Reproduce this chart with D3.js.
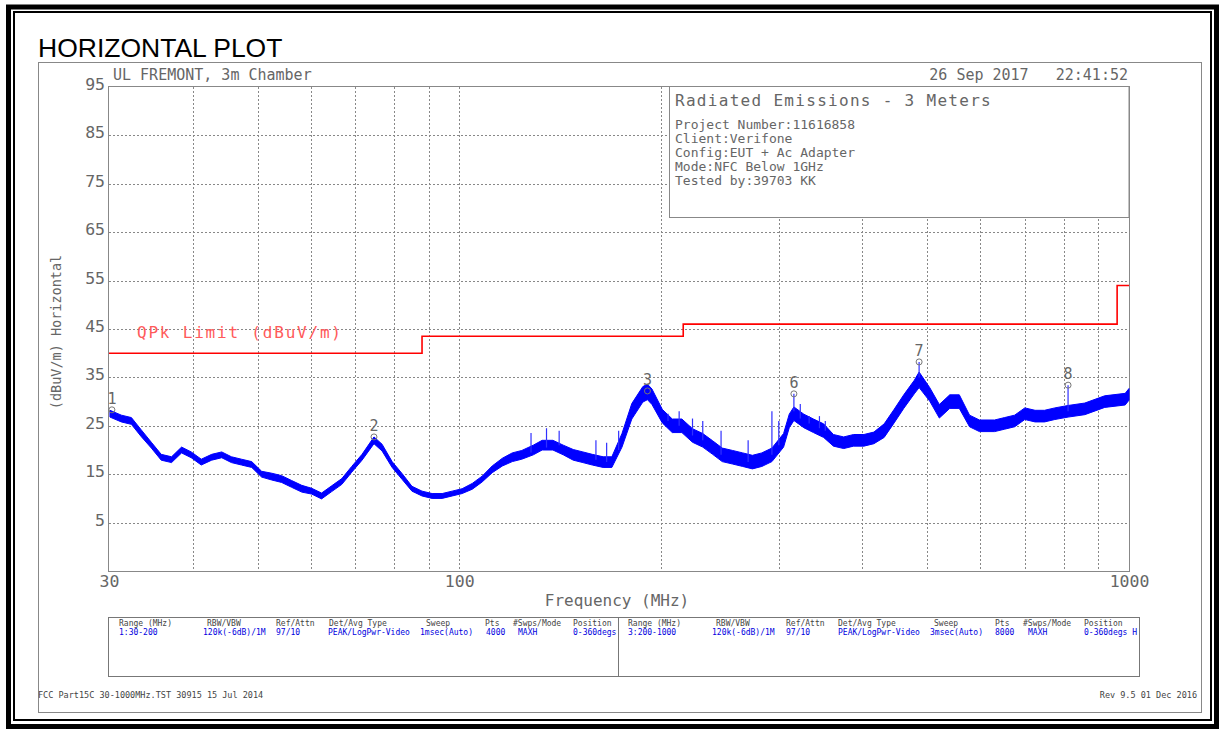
<!DOCTYPE html>
<html><head><meta charset="utf-8">
<script src="https://cdn.jsdelivr.net/npm/d3@7"></script>
<style>
html,body{margin:0;padding:0;background:#fff;}
svg{display:block;}
.mono{font-family:"DejaVu Sans Mono",monospace;}
</style></head>
<body><svg id="c" width="1223" height="732"></svg>
<script>
// ---------- DATA ----------
const yTicks = [5,15,25,35,45,55,65,75,85,95];
const xTickLabels = [30,100,1000];
const xGrid = [40,50,60,70,80,90,100,200,300,400,500,600,700,800,900];

const traceFreq = [
  30.1,31.3,32.4,33.5,34.7,35.9,37.2,38.5,39.8,41.2,
  42.7,44.2,45.7,47.3,49.0,50.7,52.5,54.3,56.2,58.2,
  60.2,62.3,64.5,66.8,69.1,71.6,74.6,76.7,79.4,82.2,
  85.0,88.0,91.1,94.3,97.6,101,104.6,108.2,112,116,
  120,124,129,133,138,143,148,153,158,164,
  169,175,181,188,191,194,201,208,215,223,
  231,239,247,256,265,274,283,293,305,311,
  316,327,338,350,362,375,388,402,416,431,
  446,461,478,486,504,521,540,558,578,598,
  630,652,675,699,724,748,775,811,859,920,
  987,1000];
const traceLevel = [
  27.5,26.5,26,23.5,21,18.5,18,20,19,17.5,
  18.5,19,18,17.5,17,15,14.5,14,13,12,
  11.5,10.5,12,13.5,16,18.5,22,20.5,17,14.5,
  12,11,10.5,10.5,11,11.5,12.5,14,16,17.5,
  18.5,19,20,21,21,20,19,18.5,18,17.5,
  17.5,22,28,31.5,32,31,27,25,25,23,
  22,20.5,19,18.5,18,17.5,18,19,22,26,
  27.5,26,25,24,22,21.5,22,22,22.5,24,
  27,30,33,34.5,31.5,28,30,30,26,25,
  25,25.5,26,27.5,27,27,27.5,28,28.5,30,
  30.5,31.5];
const traceSpread = [
  0.7,0.7,0.7,0.7,0.6,0.6,0.6,0.6,0.6,0.6,
  0.6,0.6,0.6,0.6,0.6,0.6,0.7,0.7,0.7,0.7,
  0.6,0.6,0.6,0.6,0.6,0.6,0.7,0.7,0.6,0.6,
  0.5,0.5,0.5,0.5,0.5,0.5,0.6,0.6,0.7,0.8,
  0.9,0.9,1,1,1,1,1.1,1.1,1.1,1.1,
  1.1,1.4,1.6,1.6,1.6,1.6,1.4,1.4,1.4,1.4,
  1.4,1.4,1.4,1.4,1.4,1.4,1.4,1.4,1.4,1.4,
  1.4,1.4,1.4,1.4,1.2,1.2,1.2,1.2,1.2,1.4,
  1.4,1.4,1.4,1.6,1.4,1.4,1.4,1.4,1.2,1.2,
  1.2,1.2,1.2,1.2,1.2,1.2,1.2,1.2,1.2,1.2,
  1.2,1.2];

// spikes: frequency, base level, top level
const spikeFreq = [128,135,141,160,166,173,205,213,223,231,246,270,293,300,316,323,333,345,352,486,811];
const spikeBase = [19.5,20.5,21,18,17.5,20,26,25,23,22,19,17.5,19,21,28,26.5,25.5,24.5,24,35,28];
const spikeTop  = [23.5,24.5,24,22,21.5,24,27.5,28,26.5,26,24,22,28,26,31.6,29.5,27,27,26,38.2,33.4];

const markerIds = ["1","2","3","6","7","8"];
const markerFreq = [30.3,74.6,191,316,486,811];
const markerLevel = [28.3,22.7,32.2,31.6,38.2,33.4];

const limitFreq = [30,88,88,216,216,960,960,1000];
const limitLevel = [40,40,43.5,43.5,46,46,54,54];

const infoLines = ["Project Number:11616858","Client:Verifone","Config:EUT + Ac Adapter","Mode:NFC Below 1GHz","Tested by:39703 KK"];

const tblHeaders = ["Range (MHz)","RBW/VBW","Ref/Attn","Det/Avg Type","Sweep","Pts","#Swps/Mode","Position"];
const tblRow1 = ["1:30-200","120k(-6dB)/1M","97/10","PEAK/LogPwr-Video","1msec(Auto)","4000","MAXH","0-360degs"];
const tblRow3 = ["3:200-1000","120k(-6dB)/1M","97/10","PEAK/LogPwr-Video","3msec(Auto)","8000","MAXH","0-360degs H"];

// ---------- LAYOUT ----------
const svg = d3.select("#c");
const L=109, R=1129, T=87, B=571;
const x = d3.scaleLog().domain([30,1000]).range([L,R]);
const y = d3.scaleLinear().domain([-5,95]).range([B,T]);
const txt = "#666";

// outer frames
svg.append("rect").attr("x",8.5).attr("y",7).attr("width",1208).attr("height",719.5)
  .attr("fill","none").attr("stroke","#000").attr("stroke-width",5);
svg.append("rect").attr("x",14).attr("y",12).attr("width",1197).attr("height",708)
  .attr("fill","none").attr("stroke","#000").attr("stroke-width",2);
svg.append("rect").attr("x",38.5).attr("y",62.5).attr("width",1163).attr("height",650)
  .attr("fill","none").attr("stroke","#888").attr("stroke-width",1);

svg.append("text").attr("x",38).attr("y",57).text("HORIZONTAL PLOT")
  .style("font-family","'Liberation Sans',Arial,sans-serif").style("font-size","26.5px").attr("fill","#000");

// grid
const g = svg.append("g");
g.selectAll(".hg").data(yTicks.filter(v=>v<95)).enter().append("line")
  .attr("x1",L).attr("x2",R).attr("y1",d=>Math.round(y(d))+0.5).attr("y2",d=>Math.round(y(d))+0.5)
  .attr("stroke","#888").attr("stroke-width",1).attr("stroke-dasharray","2,2");
g.selectAll(".vg").data(xGrid).enter().append("line")
  .attr("y1",T).attr("y2",B).attr("x1",d=>Math.round(x(d))+0.5).attr("x2",d=>Math.round(x(d))+0.5)
  .attr("stroke","#888").attr("stroke-width",1).attr("stroke-dasharray","2,2");

// plot border
svg.append("rect").attr("x",L-0.5).attr("y",T-0.5).attr("width",R-L+1).attr("height",B-T+1)
  .attr("fill","none").attr("stroke","#888").attr("stroke-width",1);

// axes
const yAxis = svg.append("g").attr("transform",`translate(${L-1},0)`)
  .call(d3.axisLeft(y).tickValues(yTicks).tickSize(0).tickPadding(3));
yAxis.select(".domain").remove();
yAxis.selectAll("text").style("font-size","16.5px").attr("fill",txt).attr("dy","0.15em")
  .style("font-family","'DejaVu Sans Mono',monospace");

const xAxis = svg.append("g").attr("transform",`translate(0,${B})`)
  .call(d3.axisBottom(x).tickValues(xTickLabels).tickFormat(d3.format("d")).tickSize(0).tickPadding(4));
xAxis.select(".domain").remove();
xAxis.selectAll("text").style("font-size","16.5px").attr("fill",txt)
  .style("font-family","'DejaVu Sans Mono',monospace");

svg.append("text").attr("transform","translate(61,332) rotate(-90)").attr("text-anchor","middle")
  .text("(dBuV/m) Horizontal").attr("class","mono").style("font-size","13.5px").attr("fill",txt);
svg.append("text").attr("x",617).attr("y",606).attr("text-anchor","middle")
  .text("Frequency (MHz)").attr("class","mono").style("font-size","16px").attr("fill",txt);

// header texts
svg.append("text").attr("x",113).attr("y",80).text("UL FREMONT, 3m Chamber")
  .attr("class","mono").style("font-size","15px").attr("fill",txt);
svg.append("text").attr("x",1128).attr("y",80).attr("text-anchor","end").attr("xml:space","preserve")
  .text("26 Sep 2017   22:41:52")
  .attr("class","mono").style("font-size","15px").attr("fill",txt).style("white-space","pre");

// info box
svg.append("rect").attr("x",669.5).attr("y",86.5).attr("width",R-669.5).attr("height",131)
  .attr("fill","#fff").attr("stroke","#888").attr("stroke-width",1);
svg.append("text").attr("x",675).attr("y",106).text("Radiated Emissions - 3 Meters")
  .attr("class","mono").style("font-size","16px").style("letter-spacing","1.3px").attr("fill",txt);
svg.selectAll(".info").data(infoLines).enter().append("text")
  .attr("x",675).attr("y",(d,i)=>129+i*14).text(d=>d)
  .attr("class","mono").style("font-size","13px").attr("fill",txt);

// limit line
const lim = d3.line().x((d,i)=>x(limitFreq[i])).y((d,i)=>y(limitLevel[i]));
svg.append("path").attr("d",lim(limitFreq)).attr("fill","none").attr("stroke","#f00").attr("stroke-width",1.6);
svg.append("text").attr("x",137).attr("y",338).text("QPk Limit (dBuV/m)")
  .attr("class","mono").style("font-size","16px").style("letter-spacing","1.8px").attr("fill","#ff5a5a");

// trace
const area = d3.area().x((d,i)=>x(traceFreq[i]))
  .y0((d,i)=>y(traceLevel[i]-traceSpread[i])).y1((d,i)=>y(traceLevel[i]+traceSpread[i]));
svg.append("path").attr("d",area(traceFreq)).attr("fill","#0000ff").attr("stroke","#0000ff").attr("stroke-width",1);

svg.selectAll(".spk").data(spikeFreq).enter().append("line")
  .attr("x1",d=>x(d)).attr("x2",d=>x(d))
  .attr("y1",(d,i)=>y(spikeBase[i])).attr("y2",(d,i)=>y(spikeTop[i]))
  .attr("stroke","#3030ff").attr("stroke-width",1.2);

// markers
const mk = svg.selectAll(".mk").data(markerIds).enter().append("g");
mk.append("circle").attr("cx",(d,i)=>x(markerFreq[i])).attr("cy",(d,i)=>y(markerLevel[i]))
  .attr("r",3).attr("fill","none").attr("stroke","#777").attr("stroke-width",1);
mk.append("text").attr("x",(d,i)=>x(markerFreq[i])).attr("y",(d,i)=>y(markerLevel[i])-6)
  .attr("text-anchor","middle").text(d=>d)
  .attr("class","mono").style("font-size","15px").attr("fill",txt);

// table
svg.append("rect").attr("x",108.5).attr("y",617.5).attr("width",1031).attr("height",59)
  .attr("fill","none").attr("stroke","#777").attr("stroke-width",1);
svg.append("line").attr("x1",618.5).attr("x2",618.5).attr("y1",617.5).attr("y2",676.5)
  .attr("stroke","#777").attr("stroke-width",1);
const colL = [119,207,276,329,426,485,513,573];
const valL = [119,203,276,328,420,486,518,573];
const colR = [628,716,786,838,934,995,1023,1084];
const valR = [628,712,786,838,930,995,1028,1084];
function tbl(arr,xs,yy,col){
  svg.append("g").selectAll("text").data(arr).enter().append("text")
    .attr("x",(d,i)=>xs[i]).attr("y",yy).text(d=>d)
    .attr("class","mono").style("font-size","8px").attr("fill",col);
}
tbl(tblHeaders,colL,626,"#444");
tbl(tblRow1,valL,635,"#0000e0");
tbl(tblHeaders,colR,626,"#444");
tbl(tblRow3,valR,635,"#0000e0");

// footer
svg.append("text").attr("x",38).attr("y",698).text("FCC Part15C 30-1000MHz.TST 30915 15 Jul 2014")
  .attr("class","mono").style("font-size","8.5px").attr("fill","#444");
svg.append("text").attr("x",1197).attr("y",698).attr("text-anchor","end").text("Rev 9.5 01 Dec 2016")
  .attr("class","mono").style("font-size","8.5px").attr("fill","#444");
</script></body></html>
